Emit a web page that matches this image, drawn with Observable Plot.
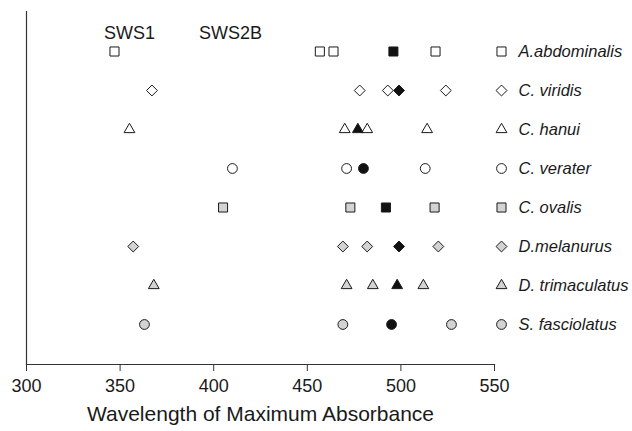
<!DOCTYPE html>
<html>
<head>
<meta charset="utf-8">
<script src="https://cdn.jsdelivr.net/npm/d3@7"></script>
<script src="https://cdn.jsdelivr.net/npm/@observablehq/plot@0.6"></script>
<style>
  html, body { margin: 0; padding: 0; background: #fff; }
  #chart svg { display: block; }
</style>
</head>
<body>
<div id="chart"></div>
<script>
const species = ["A.abdominalis", "C. viridis", "C. hanui", "C. verater", "C. ovalis", "D.melanurus", "D. trimaculatus", "S. fasciolatus"];
const shapes = ["square", "diamond2", "triangle", "circle", "square", "diamond2", "triangle", "circle"];
const fills = ["white", "white", "white", "white", "#d3d3d3", "#d3d3d3", "#d3d3d3", "#d3d3d3"];
const shortPeaks = [347, 367, 355, 410, 405, 357, 368, 363];
const openPeaks = [
  [456.7, 464, 518.5],
  [478, 493, 524],
  [470, 482, 514],
  [471, 513],
  [473, 518],
  [469, 482, 520],
  [471, 485, 512],
  [469, 527]
];
const filledPeaks = [496, 499, 477, 480, 492, 499, 498, 495];
const xTicks = [300, 350, 400, 450, 500, 550];
const headers = ["SWS1", "SWS2B"];
const headerX = [355, 409];

const shapeR = {square: 5.1, diamond2: 4.9, triangle: 4.0, circle: 4.9};
const font = "'Liberation Sans', Arial, Helvetica, sans-serif";

const points = [];
species.forEach((s, i) => {
  points.push({species: s, x: shortPeaks[i], shape: shapes[i], fill: fills[i]});
  openPeaks[i].forEach(v => points.push({species: s, x: v, shape: shapes[i], fill: fills[i]}));
  points.push({species: s, x: filledPeaks[i], shape: shapes[i], fill: "#111"});
});
const legendRows = species.map((s, i) => ({species: s, shape: shapes[i], fill: fills[i]}));

const shapeMarks = [];
for (const sh of ["square", "diamond2", "triangle", "circle"]) {
  shapeMarks.push(Plot.dot(points.filter(d => d.shape === sh), {
    x: "x", y: "species", symbol: () => sh, r: shapeR[sh],
    fill: "fill", stroke: "#1a1a1a", strokeWidth: 1
  }));
  shapeMarks.push(Plot.dot(legendRows.filter(d => d.shape === sh), {
    y: "species", frameAnchor: "right", dx: 7, symbol: () => sh, r: shapeR[sh],
    fill: "fill", stroke: "#1a1a1a", strokeWidth: 1
  }));
}

const chart = Plot.plot({
  width: 632,
  height: 431,
  marginLeft: 26,
  marginRight: 138,
  marginTop: 11,
  marginBottom: 67,
  style: {fontFamily: font, background: "white", color: "#1a1a1a"},
  x: {domain: [300, 550]},
  y: {type: "point", domain: species, padding: 1, axis: null},
  color: {type: "identity"},
  symbol: {type: "identity"},
  marks: [
    Plot.frame({anchor: "left", stroke: "#333", strokeWidth: 1.2}),
    Plot.frame({anchor: "bottom", stroke: "#333", strokeWidth: 1.2}),
    Plot.axisX({ticks: xTicks, tickSize: 7, tickPadding: 8, fontSize: 18, label: null, stroke: "#333"}),
    Plot.text(["Wavelength of Maximum Absorbance"], {
      text: d => d, frameAnchor: "bottom", dy: 56, fontSize: 21, fill: "#1a1a1a"
    }),
    Plot.text(headers, {
      x: (d, i) => headerX[i], text: d => d, frameAnchor: "top", dy: 15, fontSize: 18, fill: "#1a1a1a"
    }),
    ...shapeMarks,
    Plot.text(legendRows, {
      y: "species", text: "species", frameAnchor: "right", dx: 24, textAnchor: "start",
      fontSize: 16.5, fontStyle: "italic", fill: "#1a1a1a"
    })
  ]
});
document.getElementById("chart").appendChild(chart);
</script>
</body>
</html>
